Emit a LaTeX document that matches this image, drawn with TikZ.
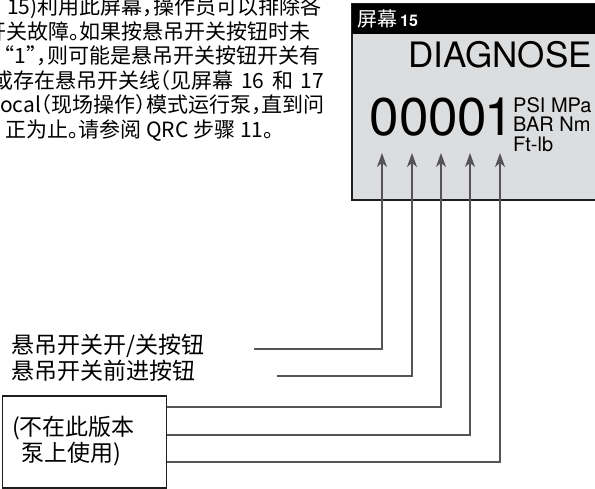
\documentclass[tikz,border=0pt]{standalone}
\usepackage{fontspec}
\setmainfont{TeX Gyre Heros}
\newfontfamily\cjk{Noto Sans CJK SC}
\newfontfamily\cjkp[RawFeature=+halt]{Noto Sans CJK SC}
\usetikzlibrary{arrows.meta}
\definecolor{screengray}{RGB}{220,221,223}
\definecolor{wiregray}{RGB}{85,85,88}
\definecolor{edgeblack}{RGB}{30,30,30}
\XeTeXlinebreaklocale "zh"
\XeTeXlinebreakskip=0pt plus 1pt
\newcommand\jline[2]{\hbox to #1pt{#2}}
\tikzset{
  para/.style={inner sep=0pt, font=\cjkp\fontsize{21}{24}\selectfont, anchor=base west},
  lbl/.style={inner sep=0pt, font=\cjk\fontsize{23}{27}\selectfont, anchor=base west},
  digit/.style={inner sep=0pt, font=\fontsize{53}{53}\selectfont, anchor=base},
  unit/.style={inner sep=0pt, font=\fontsize{20}{20}\selectfont, anchor=base west},
  wire/.style={draw=wiregray, line width=1.3pt},
  wirearrow/.style={wire, -{Stealth[length=14pt,width=10pt,inset=4pt]}},
}
\begin{document}
\begin{tikzpicture}[x=1pt,y=-1pt]
\useasboundingbox (0,0) rectangle (595,489);
\clip (0,0) rectangle (595,489);

% paragraph (cut at the left edge, justified to x=324)
\node[para] (p1) at (7,15)    {\jline{317}{15)利用此屏幕，操作员可以排除各}};
\node[para] (p2) at (-15,39.5){\jline{339}{开关故障。如果按悬吊开关按钮时未}};
\node[para] (p3) at (4,64)    {\jline{320}{“1”，则可能是悬吊开关按钮开关有}};
\node[para] (p4) at (-8,88.5) {\jline{332}{或存在悬吊开关线（见屏幕 16 和 17}};
\node[para] (p5) at (0,113)   {\jline{324}{ocal（现场操作）模式运行泵，直到问}};
\node[para] (p6) at (5,137.5) {正为止。请参阅 QRC 步骤 11。};

% screen
\draw[edgeblack, line width=1.3pt, fill=screengray] (352,4) rectangle (610,200);
\fill[black] (352,4) rectangle (610,34);
\node[inner sep=0pt, anchor=base west, text=white] (hdr) at (357,27)
  {{\cjk\fontsize{20}{20}\selectfont 屏幕}\kern3pt{\bfseries\fontsize{16}{16}\selectfont 15}};
\node[inner sep=0pt, anchor=base west, font=\fontsize{35}{35}\selectfont] (diag) at (408,68) {DIAGNOSE};

\node[digit] (d1) at (384,136) {0};
\node[digit] (d2) at (414,136) {0};
\node[digit] (d3) at (443,136) {0};
\node[digit] (d4) at (472,136) {0};
\node[digit] (d5) at (499,136) {1};

\node[unit] (u1) at (513,113) {PSI MPa};
\node[unit] (u2) at (513,132) {BAR Nm};
\node[unit] (u3) at (513,152) {Ft-lb};

% arrow tips
\coordinate (t1) at (382,153);
\coordinate (t2) at (412,153);
\coordinate (t3) at (441,153);
\coordinate (t4) at (470,153);
\coordinate (t5) at (500,153);

% labels
\node[lbl] (l1) at (11,353) {悬吊开关开/关按钮};
\node[lbl] (l2) at (11,380) {悬吊开关前进按钮};
\coordinate (s1) at (254,349);
\coordinate (s2) at (277,376);

\node[draw=edgeblack, line width=1.3pt, minimum width=164pt, minimum height=92pt, inner sep=0pt] (box) at (84.7,442) {};
\node[lbl] (b1) at (12,435) {(不在此版本};
\node[lbl] (b2) at (21,461) {泵上使用)};

% connectors
\draw[wirearrow] (s1) -| (t1);
\draw[wirearrow] (s2) -| (t2);
\draw[wirearrow] (box.east |- 0,407) -| (t3);
\draw[wirearrow] (box.east |- 0,435) -| (t4);
\draw[wirearrow] (box.east |- 0,462) -| (t5);
\end{tikzpicture}
\end{document}
